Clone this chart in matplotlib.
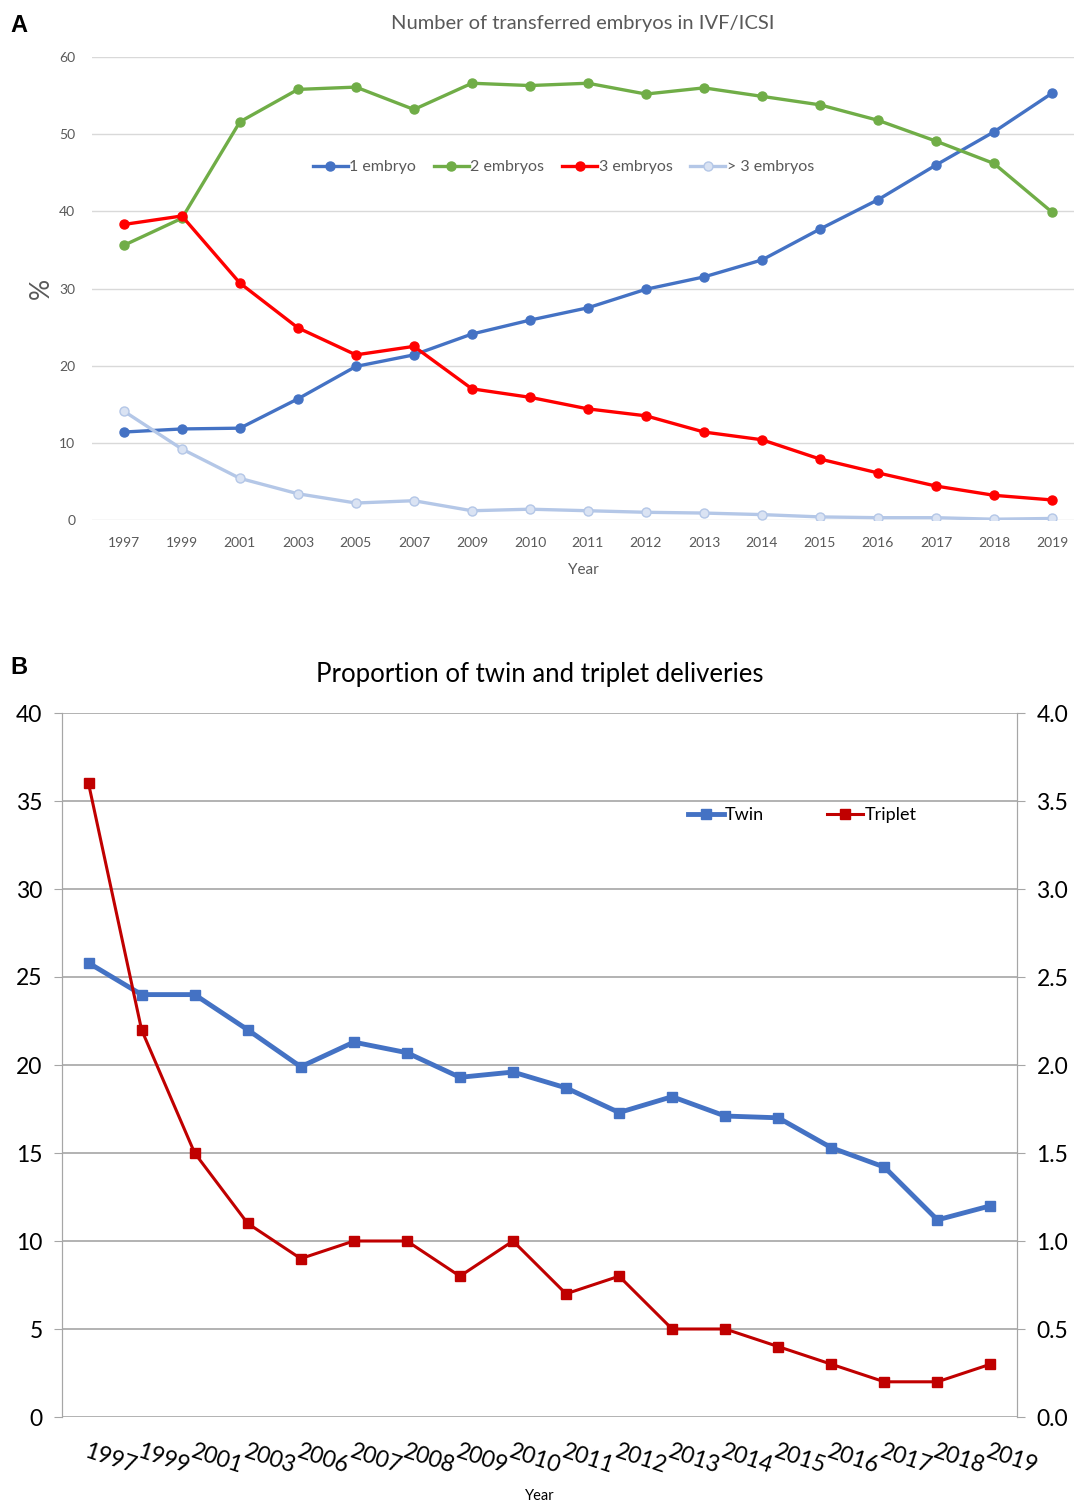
import matplotlib.pyplot as plt
import numpy as np

# panel A data
years_a = ['1997', '1999', '2001', '2003', '2005', '2007', '2009', '2010', '2011', '2012',
           '2013', '2014', '2015', '2016', '2017', '2018', '2019']
one_embryo = [11.4, 11.8, 11.9, 15.7, 19.9, 21.4, 24.1, 25.9, 27.5, 29.9,
              31.5, 33.7, 37.7, 41.5, 46.0, 50.3, 55.3]
two_embryos = [35.6, 39.1, 51.6, 55.8, 56.1, 53.2, 56.6, 56.3, 56.6, 55.2,
               56.0, 54.9, 53.8, 51.8, 49.1, 46.2, 39.9]
three_embryos = [38.3, 39.4, 30.7, 24.9, 21.4, 22.5, 17.0, 15.9, 14.4, 13.5,
                 11.4, 10.4, 7.9, 6.1, 4.4, 3.2, 2.6]
more_embryos = [14.1, 9.2, 5.4, 3.4, 2.2, 2.5, 1.2, 1.4, 1.2, 1.0,
                0.9, 0.7, 0.4, 0.3, 0.3, 0.1, 0.2]

# panel B data
years_b = ['1997', '1999', '2001', '2003', '2006', '2007', '2008', '2009', '2010', '2011',
           '2012', '2013', '2014', '2015', '2016', '2017', '2018', '2019']
twin = [25.8, 24.0, 24.0, 22.0, 19.9, 21.3, 20.7, 19.3, 19.6, 18.7,
        17.3, 18.2, 17.1, 17.0, 15.3, 14.2, 11.2, 12.0]
triplet = [3.6, 2.2, 1.5, 1.1, 0.9, 1.0, 1.0, 0.8, 1.0, 0.7,
           0.8, 0.5, 0.5, 0.4, 0.3, 0.2, 0.2, 0.3]

plt.rcParams['font.family'] = ['Lato', 'DejaVu Sans']

W, H = 1074, 1501
fig = plt.figure(figsize=(W / 100, H / 100), dpi=100)


def box(l, t, r, b):
    return [l / W, 1 - b / H, (r - l) / W, (b - t) / H]


# ---------- A ----------
ax = fig.add_axes(box(92, 57, 1074, 520))
xa = np.arange(len(years_a))
gray = '#595959'
ax.plot(xa, one_embryo, color='#4472C4', lw=2.4, marker='o', ms=6.5, label='1 embryo')
ax.plot(xa, two_embryos, color='#70AD47', lw=2.4, marker='o', ms=6.5, label='2 embryos')
ax.plot(xa, three_embryos, color='#FF0000', lw=2.4, marker='o', ms=6.5, label='3 embryos')
ax.plot(xa, more_embryos, color='#B4C7E7', lw=2.4, marker='o', ms=6.5,
        mfc='#DAE3F3', label='> 3 embryos')
ax.set_xlim(-0.55, 16.38)
ax.set_ylim(0, 60)
ax.set_yticks(range(0, 61, 10))
ax.set_xticks(xa)
ax.set_xticklabels(years_a)
ax.grid(axis='y', color='#D9D9D9', lw=1)
ax.set_axisbelow(True)
for s in ax.spines.values():
    s.set_visible(False)
ax.tick_params(axis='y', length=0, labelsize=10, colors=gray, pad=12)
ax.tick_params(axis='x', length=0, labelsize=10, colors=gray, pad=12)
ax.set_title('Number of transferred embryos in IVF/ICSI', color=gray, fontsize=14.5, pad=20)
ax.set_xlabel('Year', color=gray, fontsize=11, labelpad=10)
ax.set_ylabel('%', color=gray, fontsize=19, labelpad=4)
ax.legend(loc='center', bbox_to_anchor=(0.48, 0.762), ncol=4, frameon=False,
          fontsize=11.5, labelcolor=gray, handlelength=2.2, handletextpad=0.1,
          columnspacing=1.1)
fig.text(10 / W, 1 - 25 / H, 'A', fontsize=17, fontweight='bold',
         family='Liberation Sans', va='center')

# ---------- B ----------
bx = fig.add_axes(box(62, 713, 1017, 1417))
xb = np.arange(len(years_b))
l1, = bx.plot(xb, twin, color='#4472C4', lw=3.5, marker='s', ms=7, label='Twin')
bx.set_xlim(-0.5, 17.5)
bx.set_ylim(0, 40)
bx.set_yticks(range(0, 41, 5))
bx.grid(axis='y', color='#A6A6A6', lw=1.2)
bx.set_axisbelow(True)
bx2 = bx.twinx()
l2, = bx2.plot(xb, triplet, color='#C00000', lw=2.2, marker='s', ms=7, label='Triplet')
bx2.set_ylim(0, 4)
bx2.set_yticks(np.arange(0, 4.01, 0.5))
bx2.set_yticklabels([f'{v:.1f}' for v in np.arange(0, 4.01, 0.5)])
for a in (bx, bx2):
    a.spines['top'].set_visible(False)
    a.spines['bottom'].set_visible(False)
    a.spines['left'].set_color('#A6A6A6')
    a.spines['right'].set_color('#A6A6A6')
    a.tick_params(axis='y', labelsize=16.5, length=6, color='#A6A6A6', pad=8)
bx.set_xticks(xb)
bx.set_xticklabels(years_b, rotation=-18, ha='left', rotation_mode='anchor', fontsize=16.5)
bx.tick_params(axis='x', length=0, pad=17)
bx.set_xlabel('Year', fontsize=10.5, labelpad=9)
bx.set_title('Proportion of twin and triplet deliveries', fontsize=18.5, pad=22)
bx.legend([l1, l2], ['Twin', 'Triplet'], loc='center', bbox_to_anchor=(0.775, 0.855),
          ncol=2, frameon=False, fontsize=13, handlelength=2.0, handletextpad=0.05,
          columnspacing=3.5)
fig.text(10 / W, 1 - 668 / H, 'B', fontsize=17, fontweight='bold',
         family='Liberation Sans', va='center')

fig.savefig('out.png', dpi=100)
